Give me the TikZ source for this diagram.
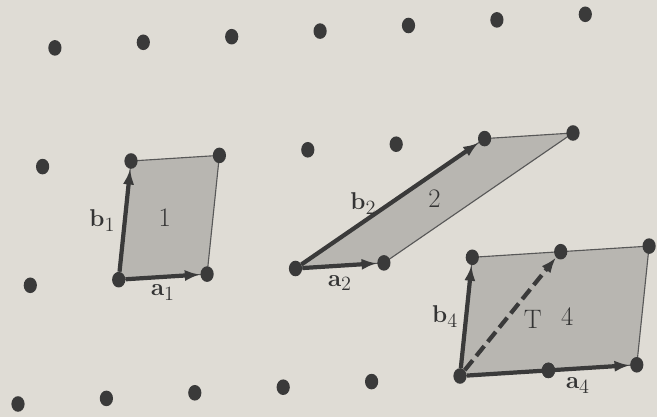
\documentclass[tikz,border=0pt]{standalone}
\usepackage{amsmath,amssymb}
\usepackage{tikz}
\usetikzlibrary{arrows.meta,shapes.geometric}

\definecolor{paper}{HTML}{DFDCD5}
\definecolor{cellgray}{HTML}{B8B6B1}
\definecolor{ink}{HTML}{3A3A3A}

\begin{document}
\begin{tikzpicture}[
  % lattice basis: a along x, b along y
  x={(2.21cm,0.14cm)}, y={(0.3075cm,2.9675cm)},
  font=\fontsize{19}{22}\selectfont, >={Latex[length=11pt,width=8pt]},
  site/.style={ellipse, fill=ink, inner sep=0pt,
               minimum width=0.33cm, minimum height=0.39cm},
  cell/.style={fill=cellgray, draw=ink!85, line width=0.8pt},
  vec/.style={->, ink, line width=3pt},
  lbl/.style={text=ink!90!black},
]

  % ── Page ──────────────────────────────────────────────────────────────
  \fill[paper] (-0.45cm,-0.325cm) rectangle (15.975cm,10.1cm);
  \useasboundingbox (-0.45cm,-0.325cm) rectangle (15.975cm,10.1cm);

  % ── Cells ─────────────────────────────────────────────────────────────
  % cell 1: a, b
  \filldraw[cell] (1,1) -- (2,1) -- (2,2) -- (1,2) -- cycle;
  % cell 2: a, 2a+b
  \filldraw[cell] (3,1) -- (4,1) -- (6,2) -- (5,2) -- cycle;
  % cell 4: 2a, b
  \filldraw[cell] (5,0) -- (7,0) -- (7,1) -- (5,1) -- cycle;

  \node[lbl] (n1) at (1.45,1.5) {1};
  \node[lbl] (n2) at (4.5,1.52) {2};
  \node[lbl] (n4) at (6.15,0.45) {4};

  % ── Lattice points ────────────────────────────────────────────────────
  \foreach \j/\last in {0/7, 1/7, 2/6, 3/6}
    \foreach \i in {0,...,\last}
      \node[site] (s\i\j) at (\i,\j) {};

  % ── Cell 1 vectors ────────────────────────────────────────────────────
  \draw[vec] (s11) -- (s21)
    node[lbl, midway, below=1pt] {$\mathbf{a}_1$};
  \draw[vec] (s11) -- (s12)
    node[lbl, midway, left=2pt] {$\mathbf{b}_1$};

  % ── Cell 2 vectors ────────────────────────────────────────────────────
  \draw[vec] (s31) -- (s41)
    node[lbl, midway, below=2pt] {$\mathbf{a}_2$};
  \draw[vec] (s31) -- (s52)
    node[lbl, midway, left=5pt] {$\mathbf{b}_2$};

  % ── Cell 4 vectors ────────────────────────────────────────────────────
  \draw[vec] (s50) -- (s70)
    node[lbl, pos=0.68, below=2pt] {$\mathbf{a}_4$};
  \draw[vec] (s50) -- (s51)
    node[lbl, midway, left=1pt] {$\mathbf{b}_4$};
  \draw[vec, dash pattern=on 9pt off 4pt] (s50) -- (s61)
    node[lbl, pos=0.45, right=8pt] {T};

  % middle point of a4 sits on top of the arrow
  \fill[ink] (s60.center) ellipse (0.165cm and 0.195cm);

\end{tikzpicture}
\end{document}
